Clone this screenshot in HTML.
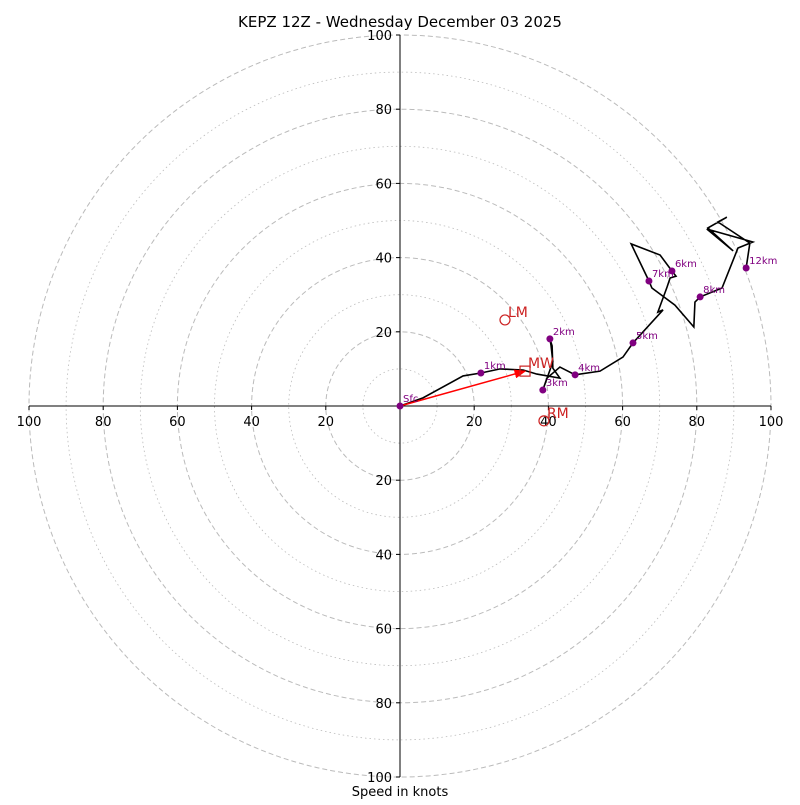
<!DOCTYPE html>
<html><head><meta charset="utf-8"><style>
body{margin:0;background:#fff}
svg{font-family:"DejaVu Sans","Liberation Sans",sans-serif}
</style></head><body>
<svg id="c" width="800" height="800" viewBox="0 0 800 800">
<defs><marker id="ah" markerWidth="8" markerHeight="6" refX="7" refY="3" orient="auto"><path d="M0,0 L8,3 L0,6 z" fill="red"/></marker></defs>
<rect width="800" height="800" fill="#fff"/>
<text x="400" y="27" font-size="15" text-anchor="middle">KEPZ 12Z - Wednesday December 03 2025</text>
<text x="400" y="796" font-size="13" text-anchor="middle">Speed in knots</text>
<g id="rings"></g><g id="axes"></g><g id="trace"></g><g id="marks"></g>
</svg>
<script>
const ringValues=[10,20,30,40,50,60,70,80,90,100];
const tickLabels=[20,40,60,80,100];
const traceU=[0,6.2,17.0,21.8,27.0,33.2,36.9,43.1,41.2,41.0,40.4,40.7,41.2,38.5,39.6,43.1,47.2,53.9,60.1,62.8,70.9,69.5,72.0,72.8,74.4,73.3,70.1,62.3,67.1,67.9,74.1,79.2,79.5,80.9,86.8,91.1,95.1,82.7,89.8,83.0,88.1,85.7,94.3,93.3];
const traceV=[0,2.2,8.1,8.9,10.0,9.7,8.6,7.5,10.2,16.2,18.1,16.4,11.9,4.3,7.5,10.5,8.4,9.4,13.2,17.0,25.9,25.3,32.1,34.5,35.0,36.4,40.7,43.7,33.7,31.8,27.2,21.3,28.0,29.4,31.8,42.6,44.2,47.7,41.8,48.0,50.9,49.6,43.9,37.2];
const heightLabels=["Sfc","1km","2km","3km","4km","5km","6km","7km","8km","12km"];
const heightU=[0,21.8,40.4,38.5,47.2,62.8,73.3,67.1,80.9,93.3];
const heightV=[0,8.9,18.1,4.3,8.4,17.0,36.4,33.7,29.4,37.2];
const motionLabels=["LM","MW","RM"];
const motionU=[28.3,33.7,38.8];
const motionV=[23.2,9.4,-4.0];

const NS="http://www.w3.org/2000/svg",cx=400,cy=406,k=3.71;
const X=u=>cx+u*k,Y=v=>cy-v*k;
function mk(tag,parent,attrs){const e=document.createElementNS(NS,tag);for(const a in attrs)e.setAttribute(a,attrs[a]);document.getElementById(parent).appendChild(e);return e;}
ringValues.forEach(r=>{
  const e=mk('circle','rings',{cx:cx,cy:cy,r:r*k,fill:'none',stroke:'#bbb','stroke-width':r%20?0.8:1,'stroke-dasharray':r%20?'1.5,3':'5,3'});
  
  
});
let a=mk('line','axes',{x1:X(-100),y1:cy,x2:X(100),y2:cy,stroke:'#000'});


a=mk('line','axes',{x1:cx,y1:Y(100),x2:cx,y2:Y(-100),stroke:'#000'});


tickLabels.forEach(t=>{
  [t,-t].forEach(s=>{
    mk('line','axes',{x1:X(s),y1:cy,x2:X(s),y2:cy+4,stroke:'#000'});
    const tx=mk('text','axes',{x:X(s),y:cy+20,'font-size':13,'text-anchor':'middle'});tx.textContent=t;
    
    
    mk('line','axes',{x1:cx,y1:Y(s),x2:cx-4,y2:Y(s),stroke:'#000'});
    const ty=mk('text','axes',{x:cx-8,y:Y(s)+5,'font-size':13,'text-anchor':'end'});ty.textContent=t;
    
    
  });
});
const p=mk('polyline','trace',{points:traceU.map((u,i)=>X(u)+','+Y(traceV[i])).join(' '),fill:'none',stroke:'#000','stroke-width':1.6});


const ar=mk('line','marks',{x1:X(0),y1:Y(0),x2:X(motionU[1]),y2:Y(motionV[1]),stroke:'red','stroke-width':1.5,'marker-end':'url(#ah)'});


heightLabels.forEach((l,i)=>{
  const c=mk('circle','marks',{cx:X(heightU[i]),cy:Y(heightV[i]),r:3.5,fill:'purple'});
  
  
  const t=mk('text','marks',{x:X(heightU[i])+3,y:Y(heightV[i])-4,'font-size':10,fill:'purple'});t.textContent=l;
  
  
});
motionLabels.forEach((l,i)=>{
  const x=X(motionU[i]),y=Y(motionV[i]);
  let m;
  if(l==="MW")m=mk('rect','marks',{x:x-5,y:y-5,width:10,height:10,fill:'none',stroke:'#c22','stroke-width':1.2});
  else m=mk('circle','marks',{cx:x,cy:y,r:5,fill:'none',stroke:'#c22','stroke-width':1.2});
  
  
  const t=mk('text','marks',{x:x+3,y:y-3,'font-size':14,fill:'#c22'});t.textContent=l;
  
  
});
</script>
</body></html>
